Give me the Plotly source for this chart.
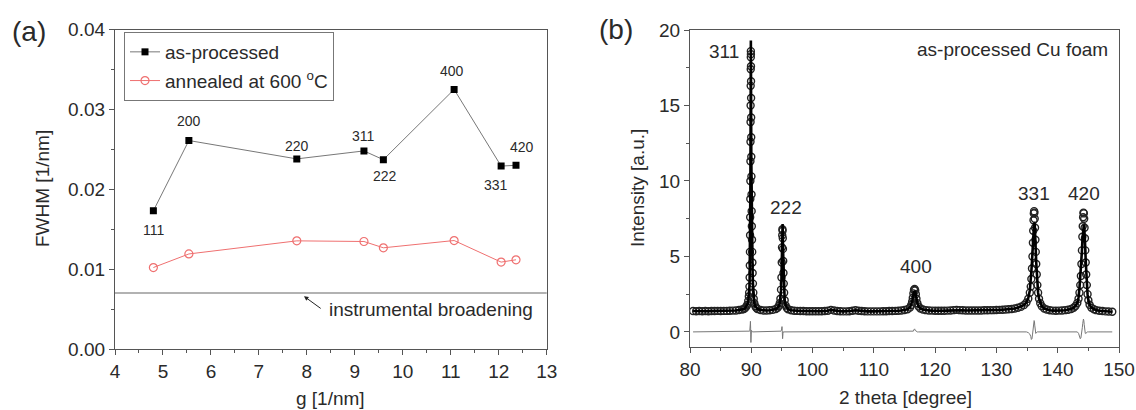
import plotly.graph_objects as go

# ---------------- Panel (a): FWHM vs g ----------------
g_values = [4.80, 5.54, 7.79, 9.19, 9.595, 11.07, 12.05, 12.36]
fwhm_as_processed = [0.0173, 0.0261, 0.0238, 0.0248, 0.0237, 0.0325, 0.0229, 0.0230]
fwhm_annealed = [0.0102, 0.0119, 0.01354, 0.01346, 0.01267, 0.01358, 0.01088, 0.01117]
hkl_labels = ["111", "200", "220", "311", "222", "400", "331", "420"]
hkl_label_x = [4.80, 5.54, 7.80, 9.19, 9.62, 11.03, 11.95, 12.48]
hkl_label_y = [0.0149, 0.0285, 0.0254, 0.0267, 0.0216, 0.0348, 0.0205, 0.0253]
instrumental_broadening = 0.0070

# ---------------- Panel (b): XRD pattern ----------------
two_theta = [
    80.5, 81, 81.5, 82, 82.5, 83, 83.5, 84, 84.5, 85,
    85.5, 86, 86.5, 87, 87.5, 88, 88.5, 88.8, 89.0, 89.2,
    89.35, 89.5, 89.6, 89.65, 89.7, 89.73, 89.76, 89.78, 89.8, 89.82,
    89.84, 89.85, 89.86, 89.87, 89.88, 89.89, 89.9, 89.91, 89.92, 89.93,
    89.94, 89.95, 89.96, 89.97, 89.98, 89.99, 90.0, 90.02, 90.04, 90.06,
    90.09, 90.12, 90.15, 90.18, 90.22, 90.27, 90.33, 90.4, 90.5, 90.65,
    90.8, 91.0, 91.5, 92, 92.5, 93, 93.5, 94.0, 94.3, 94.5,
    94.65, 94.75, 94.85, 94.92, 94.97, 95.01, 95.05, 95.08, 95.11, 95.14,
    95.17, 95.21, 95.25, 95.3, 95.36, 95.45, 95.6, 95.8, 96.0, 96.5,
    97, 97.5, 98, 98.5, 99, 99.5, 100, 100.5, 101, 101.5,
    102, 102.5, 103, 103.5, 104, 104.5, 105, 105.5, 106, 106.5,
    107, 107.5, 108, 108.5, 109, 109.5, 110, 110.5, 111, 111.5,
    112, 112.5, 113, 113.5, 114, 114.5, 115, 115.5, 115.9, 116.1,
    116.25, 116.35, 116.45, 116.55, 116.65, 116.75, 116.85, 116.95, 117.1, 117.3,
    117.6, 118, 118.5, 119, 119.5, 120, 120.5, 121, 121.5, 122,
    122.5, 123, 123.5, 124, 124.5, 125, 125.5, 126, 126.5, 127,
    127.5, 128, 128.5, 129, 129.5, 130, 130.5, 131, 131.5, 132,
    132.5, 133, 133.5, 134, 134.5, 134.9, 135.2, 135.45, 135.6, 135.7,
    135.8, 135.88, 135.95, 136.0, 136.05, 136.1, 136.15, 136.2, 136.25, 136.3,
    136.36, 136.42, 136.5, 136.58, 136.68, 136.8, 136.95, 137.15, 137.4, 137.8,
    138.2, 138.7, 139.2, 139.7, 140.2, 140.7, 141.2, 141.7, 142.2, 142.6,
    142.9, 143.2, 143.4, 143.55, 143.68, 143.78, 143.87, 143.95, 144.02, 144.08,
    144.14, 144.2, 144.26, 144.32, 144.38, 144.44, 144.5, 144.57, 144.65, 144.75,
    144.87, 145.0, 145.2, 145.5, 145.9, 146.3, 146.8, 147.3, 147.8, 148.3,
    148.9,
]
intensity_obs = [
    1.38, 1.37, 1.38, 1.37, 1.38, 1.37, 1.38, 1.38, 1.39, 1.38,
    1.39, 1.39, 1.40, 1.41, 1.42, 1.45, 1.48, 1.52, 1.58, 1.68,
    1.8, 2.05, 2.35, 2.6, 3.0, 3.6, 4.4, 5.3, 6.4, 7.6,
    8.8, 10.0, 11.3, 12.6, 13.9, 15.0, 16.3, 17.4, 18.2, 18.6,
    18.4, 17.6, 16.6, 15.5, 14.2, 12.9, 11.6, 10.3, 9.1, 8.0,
    7.0, 6.1, 5.3, 4.6, 3.9, 3.2, 2.6, 2.2, 1.9, 1.7,
    1.6, 1.52, 1.45, 1.42, 1.42, 1.43, 1.46, 1.52, 1.6, 1.72,
    1.9, 2.2, 2.8, 3.6, 4.6, 5.6, 6.4, 6.8, 6.7, 6.2,
    5.5, 4.7, 3.9, 3.2, 2.6, 2.1, 1.75, 1.58, 1.5, 1.43,
    1.40, 1.39, 1.38, 1.38, 1.37, 1.37, 1.37, 1.37, 1.37, 1.37,
    1.38, 1.40, 1.46, 1.42, 1.38, 1.37, 1.36, 1.36, 1.37, 1.40,
    1.43, 1.40, 1.38, 1.37, 1.36, 1.36, 1.36, 1.36, 1.36, 1.37,
    1.37, 1.38, 1.38, 1.39, 1.40, 1.42, 1.45, 1.50, 1.62, 1.78,
    2.0, 2.25, 2.55, 2.78, 2.85, 2.75, 2.5, 2.2, 1.9, 1.68,
    1.55, 1.48, 1.44, 1.42, 1.41, 1.40, 1.40, 1.40, 1.40, 1.41,
    1.42, 1.44, 1.46, 1.44, 1.43, 1.42, 1.42, 1.42, 1.42, 1.42,
    1.42, 1.43, 1.43, 1.44, 1.44, 1.45, 1.46, 1.47, 1.48, 1.50,
    1.52, 1.55, 1.60, 1.67, 1.78, 1.95, 2.2, 2.6, 3.0, 3.5,
    4.2, 5.0, 5.9, 6.7, 7.4, 7.85, 8.0, 7.9, 7.5, 6.9,
    6.1, 5.3, 4.5, 3.8, 3.1, 2.6, 2.2, 1.9, 1.7, 1.55,
    1.48, 1.43, 1.41, 1.40, 1.41, 1.42, 1.44, 1.47, 1.52, 1.60,
    1.72, 1.92, 2.2, 2.6, 3.1, 3.7, 4.5, 5.4, 6.3, 7.0,
    7.6, 7.9, 7.85, 7.5, 6.9, 6.2, 5.4, 4.6, 3.8, 3.1,
    2.5, 2.1, 1.8, 1.6, 1.5, 1.44, 1.40, 1.38, 1.36, 1.35,
    1.34,
]
residual = [
    0, 0, 0, 0, 0, 0, 0, 0, 0, 0,
    0, 0, 0, 0, 0, 0, 0, 0, 0, 0,
    0, 0, 0, 0, 0, 0.05, 0.1, 0.15, 0.2, 0.35,
    0.5, 0.6, 0.7, 0.7, 0.6, 0.4, 0.2, -0.2, -0.6, -0.7,
    -0.7, -0.6, -0.4, -0.2, -0.1, 0, 0.05, 0.1, 0.1, 0.05,
    0, 0, 0, 0, 0, 0, 0, 0, 0, 0,
    0, 0, 0, 0, 0, 0, 0, 0, 0, 0,
    0, 0, 0.05, 0.1, 0.3, 0.35, 0.1, -0.35, -0.45, -0.3,
    -0.1, 0, 0, 0, 0, 0, 0, 0, 0, 0,
    0, 0, 0, 0, 0, 0, 0, 0, 0, 0,
    0, 0, 0, 0, 0, 0, 0, 0, 0, 0,
    0, 0, 0, 0, 0, 0, 0, 0, 0, 0,
    0, 0, 0, 0, 0, 0, 0, 0, 0, 0,
    0, 0, 0.05, 0.15, 0.2, 0.1, 0.05, 0, 0, 0,
    0, 0, 0, 0, 0, 0, 0, 0, 0, 0,
    0, 0, 0, 0, 0, 0, 0, 0, 0, 0,
    0, 0, 0, 0, 0, 0, 0, 0, 0, 0,
    0, 0, 0, 0, 0, 0, -0.05, -0.15, -0.3, -0.5,
    -0.45, -0.2, 0.05, 0.3, 0.5, 0.65, 0.75, 0.7, 0.45, 0.15,
    -0.1, -0.1, -0.05, 0, 0, 0, 0, 0, 0, 0,
    0, 0, 0, 0, 0, 0, 0, 0, 0, 0,
    0, 0, -0.1, -0.3, -0.45, -0.4, -0.2, 0.05, 0.3, 0.55,
    0.75, 0.85, 0.75, 0.5, 0.2, 0, -0.1, -0.1, -0.05, 0,
    0, 0, 0, 0, 0, 0, 0, 0, 0, 0,
    0,
]
intensity_calc = [o - r for o, r in zip(intensity_obs, residual)]

xrd_peak_labels = ["311", "222", "400", "331", "420"]
xrd_label_x = [85.5, 95.6, 116.9, 136.1, 144.3]
xrd_label_y = [18.6, 8.25, 4.35, 9.2, 9.2]

FONT = "Liberation Sans, Arial, sans-serif"
TXT = "#2a2a2a"
AX = "#555555"
RED = "#EF7070"

fig = go.Figure()

fig.add_trace(go.Scatter(
    x=g_values, y=fwhm_as_processed, mode="lines+markers", name="as-processed",
    line=dict(color="#777777", width=1),
    marker=dict(symbol="square", size=7, color="black"),
    xaxis="x", yaxis="y", legendgroup="a",
))
fig.add_trace(go.Scatter(
    x=g_values, y=fwhm_annealed, mode="lines+markers", name="annealed at 600 <sup>o</sup>C",
    line=dict(color=RED, width=1),
    marker=dict(symbol="circle-open", size=8, color=RED, line=dict(width=1.2)),
    xaxis="x", yaxis="y", legendgroup="b",
))

fig.add_trace(go.Scatter(
    x=two_theta, y=intensity_obs, mode="markers", showlegend=False,
    marker=dict(symbol="circle-open", size=7, color="#222222", line=dict(width=1.4)),
    xaxis="x2", yaxis="y2",
))
fig.add_trace(go.Scatter(
    x=two_theta, y=intensity_calc, mode="lines", showlegend=False,
    line=dict(color="black", width=2.6),
    xaxis="x2", yaxis="y2",
))
fig.add_trace(go.Scatter(
    x=two_theta, y=residual, mode="lines", showlegend=False,
    line=dict(color="#777777", width=1),
    xaxis="x2", yaxis="y2",
))

annotations = []
for t, x, y in zip(hkl_labels, hkl_label_x, hkl_label_y):
    annotations.append(dict(text=t, x=x, y=y, xref="x", yref="y", showarrow=False,
                            xanchor="center", yanchor="middle",
                            font=dict(size=14, color=TXT, family=FONT)))
for t, x, y in zip(xrd_peak_labels, xrd_label_x, xrd_label_y):
    annotations.append(dict(text=t, x=x, y=y, xref="x2", yref="y2", showarrow=False,
                            xanchor="center", yanchor="middle",
                            font=dict(size=19, color=TXT, family=FONT)))


def paper_text(text, px, py, size=19, angle=0):
    return dict(text=text, x=px / 1136, y=(410 - py) / 410, xref="paper", yref="paper",
                xanchor="center", yanchor="middle", textangle=angle, showarrow=False,
                font=dict(size=size, color=TXT, family=FONT))


annotations += [
    dict(text="instrumental broadening", x=8.43, y=0.0049, xref="x", yref="y",
         xanchor="left", yanchor="middle", showarrow=False,
         font=dict(size=19, color=TXT, family=FONT)),
    dict(text=" ", x=7.94, y=0.0066, ax=8.33, ay=0.0049, xref="x", yref="y",
         axref="x", ayref="y", showarrow=True, arrowhead=2, arrowsize=0.9,
         arrowwidth=1, arrowcolor="#222222", font=dict(size=2)),
    dict(text="as-processed Cu foam", x=148.6, y=18.7, xref="x2", yref="y2",
         xanchor="right", yanchor="middle", showarrow=False,
         font=dict(size=19, color=TXT, family=FONT)),
    paper_text("(a)", 29, 32, size=28),
    paper_text("(b)", 616, 30, size=28),
    paper_text("g [1/nm]", 331, 398),
    paper_text("FWHM [1/nm]", 42, 189, angle=-90),
    paper_text("2 theta [degree]", 905, 397),
    paper_text("Intensity [a.u.]", 638, 188, angle=-90),
]

axis_common = dict(
    showline=True, linecolor=AX, linewidth=1.2, mirror=True,
    ticks="outside", ticklen=5, tickwidth=1.2, tickcolor=AX,
    showgrid=False, zeroline=False, automargin=False,
    tickfont=dict(size=19, color=TXT, family=FONT),
)

fig.update_layout(
    width=1136, height=410,
    margin=dict(l=0, r=0, t=0, b=0),
    paper_bgcolor="white", plot_bgcolor="white",
    font=dict(family=FONT, color=TXT),
    showlegend=True,
    legend=dict(
        x=124 / 1136, y=(410 - 32) / 410, xanchor="left", yanchor="top",
        bordercolor="#777777", borderwidth=1, bgcolor="white",
        font=dict(size=19, color=TXT, family=FONT),
        traceorder="grouped", tracegroupgap=1,
    ),
    xaxis=dict(domain=[115 / 1136, 546.7 / 1136], range=[4, 13], dtick=1, anchor="y",
               minor=dict(dtick=0.5, ticklen=3, tickcolor=AX, ticks="outside"), **axis_common),
    yaxis=dict(domain=[61 / 410, 380.5 / 410], range=[0, 0.04], dtick=0.01, tickformat=".2f",
               anchor="x",
               minor=dict(dtick=0.005, ticklen=3, tickcolor=AX, ticks="outside"), **axis_common),
    xaxis2=dict(domain=[690 / 1136, 1119 / 1136], range=[80, 150], dtick=10, anchor="y2",
                minor=dict(dtick=5, ticklen=3, tickcolor=AX, ticks="outside"), **axis_common),
    yaxis2=dict(domain=[63 / 410, 380 / 410], range=[-1, 20], dtick=5, anchor="x2",
                minor=dict(dtick=2.5, ticklen=3, tickcolor=AX, ticks="outside"), **axis_common),
    annotations=annotations,
    shapes=[dict(type="line", xref="x domain", yref="y", x0=0, x1=1,
                 y0=instrumental_broadening, y1=instrumental_broadening,
                 line=dict(color="#999999", width=1.5))],
)

fig.write_html("out.html", config={"displayModeBar": False},
               post_script="document.body.style.margin='0';")
